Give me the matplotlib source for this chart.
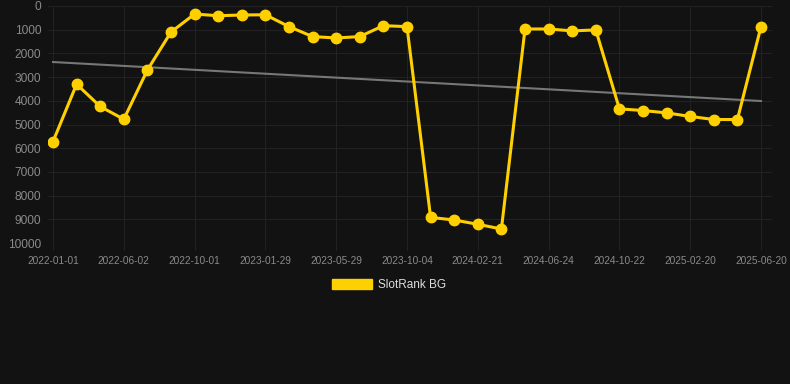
import numpy as np
import matplotlib
matplotlib.use("Agg")
import matplotlib.pyplot as plt
from matplotlib.patches import Patch

plt.rcParams['font.family'] = ['Liberation Sans', 'DejaVu Sans']

tick_labels = ["2022-01-01", "2022-06-02", "2022-10-01", "2023-01-29", "2023-05-29",
               "2023-10-04", "2024-02-21", "2024-06-24", "2024-10-22", "2025-02-20",
               "2025-06-20"]
series_name = "SlotRank BG"
rank_values = [5720, 3300, 4240, 4780, 2700, 1100, 340, 410, 380, 370,
               870, 1290, 1350, 1290, 830, 870, 8920, 9030, 9210, 9410,
               970, 970, 1050, 1010, 4340, 4410, 4510, 4660, 4790, 4790,
               870]
y_ticks = [0, 1000, 2000, 3000, 4000, 5000, 6000, 7000, 8000, 9000, 10000]

BG = "#121212"
YELLOW = "#FFD000"
GRID = "#222222"
TEXT = "#8a8a8a"

fig = plt.figure(figsize=(7.9, 3.84), dpi=100, facecolor=BG)
W, H = 790, 384
left_px, right_px, top_px, bottom_px = 48, 772, 6, 243
ax = fig.add_axes([left_px / W, 1 - bottom_px / H, (right_px - left_px) / W, (bottom_px - top_px) / H])
ax.set_facecolor(BG)

x = np.arange(len(rank_values))
y = np.array(rank_values, dtype=float)

# trend line (linear regression)
coef = np.polyfit(x, y, 1)
ax.plot([x[0], x[-1]], np.polyval(coef, [x[0], x[-1]]), color="#777777", lw=1.5, zorder=2)

ax.plot(x, y, color=YELLOW, lw=2.2, marker="o", markersize=7.5, zorder=3, solid_joinstyle="round")

ax.set_ylim(10000, 0)
px_per_idx = (761 - 53) / (len(rank_values) - 1)
ax.set_xlim(-(53 - left_px) / px_per_idx, len(rank_values) - 1 + (right_px - 761) / px_per_idx)

tick_pos = x[::3]
ax.set_xticks(tick_pos)
ax.set_xticklabels(tick_labels)
ax.set_yticks(y_ticks)
ax.set_yticklabels([str(v) for v in y_ticks])

ax.grid(True, color=GRID, lw=0.8)
ax.set_axisbelow(True)
for s in ax.spines.values():
    s.set_visible(False)
ax.tick_params(axis='x', colors=TEXT, labelsize=7.3, length=5, color=GRID, pad=4)
ax.tick_params(axis='y', colors=TEXT, labelsize=8.6, length=0, pad=5)

leg = fig.legend(handles=[Patch(facecolor=YELLOW, edgecolor=YELLOW, label=series_name)],
                 loc="center", bbox_to_anchor=(389 / W, 1 - 285 / H), frameon=False,
                 handlelength=3.4, handleheight=0.9, fontsize=8.5, labelcolor="#dddddd",
                 handletextpad=0.5)

fig.savefig("out.png", dpi=100, facecolor=BG)
